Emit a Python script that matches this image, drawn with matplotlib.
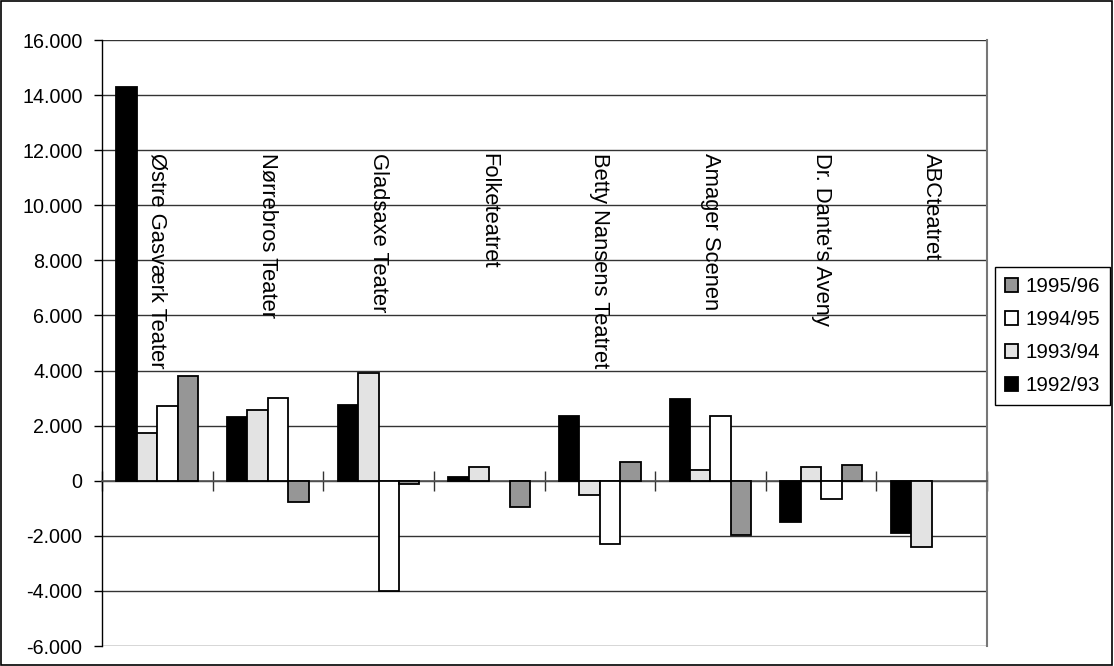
import matplotlib.pyplot as plt
import numpy as np
from matplotlib.patches import Rectangle
from matplotlib.ticker import FuncFormatter, MultipleLocator

plt.rcParams["font.family"] = ["Liberation Sans", "DejaVu Sans"]

theatres = [
    "Østre Gasværk Teater",
    "Nørrebros Teater",
    "Gladsaxe Teater",
    "Folketeatret",
    "Betty Nansens Teatret",
    "Amager Scenen",
    "Dr. Dante's Aveny",
    "ABCteatret",
]
seasons = ["1992/93", "1993/94", "1994/95", "1995/96"]
s1992 = [14300, 2300, 2750, 130, 2350, 2950, -1500, -1880]
s1993 = [1750, 2580, 3900, 500, -530, 380, 500, -2400]
s1994 = [2700, 3000, -4000, np.nan, -2300, 2350, -650, np.nan]
s1995 = [3800, -780, -120, -960, 690, -1980, 570, np.nan]
series = [s1992, s1993, s1994, s1995]
fills = ["#000000", "#e3e3e3", "#ffffff", "#969696"]

DPI = 100
fig = plt.figure(figsize=(1114 / DPI, 666 / DPI), dpi=DPI)
ax = fig.add_axes([102 / 1114, 20 / 666, 885 / 1114, 606 / 666])

x = np.arange(len(theatres))
width = 0.185
bars = []
for k, (vals, col) in enumerate(zip(series, fills)):
    b = ax.bar(x + (k - 1.5) * width, vals, width, color=col,
               edgecolor="black", linewidth=1.3, zorder=3)
    bars.append(b)

ax.set_xlim(-0.5, len(theatres) - 0.5)
ax.set_ylim(-6000, 16000)
ax.yaxis.set_major_locator(MultipleLocator(2000))
ax.yaxis.set_major_formatter(FuncFormatter(lambda v, p: f"{v:,.0f}".replace(",", ".")))
ax.grid(axis="y", color="#333333", linewidth=1.0, zorder=0)
ax.tick_params(axis="y", direction="out", length=6, width=1, labelsize=14.2, pad=8)

# category axis crosses at zero, with tick marks between groups
ax.spines["bottom"].set_position(("data", 0))
ax.spines["bottom"].set_color("#555555")
ax.spines["bottom"].set_linewidth(1.2)
ax.set_xticks(np.arange(len(theatres) + 1) - 0.5)
ax.set_xticklabels([])
ax.tick_params(axis="x", direction="inout", length=14, width=1, color="#333333")
ax.spines["top"].set_visible(False)
ax.spines["right"].set_color("#777777")
ax.spines["right"].set_linewidth(1.5)
ax.spines["left"].set_linewidth(1.0)

for i, name in enumerate(theatres):
    ax.text(i, 11900, name, rotation=-90, ha="center", va="top",
            fontsize=15.8, zorder=4)

leg = fig.legend([b[0] for b in bars[::-1]], seasons[::-1],
                 loc="upper left", bbox_to_anchor=(995 / 1114, 1 - 267 / 666),
                 fontsize=14.8, frameon=True, fancybox=False, framealpha=1,
                 edgecolor="black", handlelength=0.62, handleheight=0.62,
                 handletextpad=0.35, labelspacing=0.68, borderpad=0.5,
                 borderaxespad=0)
leg.get_frame().set_linewidth(1.0)

fig.patches.append(Rectangle((0.0005, 0.001), 0.998, 0.997, transform=fig.transFigure,
                             fill=False, edgecolor="black", linewidth=1.2))

fig.savefig("out.png", dpi=DPI)
plt.close(fig)
